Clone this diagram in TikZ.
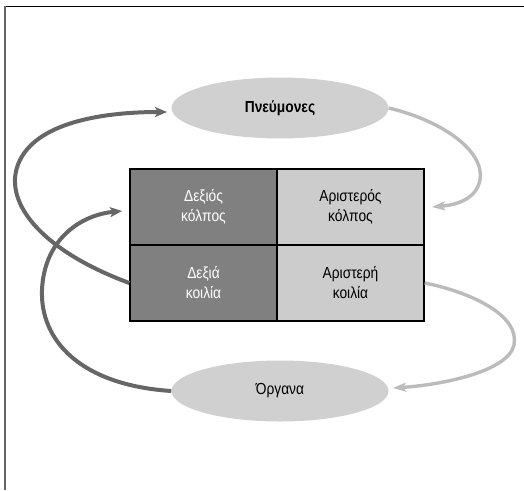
\documentclass[tikz,border=0pt]{standalone}
\usepackage{fontspec}
\setmainfont{Liberation Sans}[FakeStretch=0.86]
\usetikzlibrary{arrows.meta,shapes.geometric}
\definecolor{darkcell}{HTML}{808080}
\definecolor{lightcell}{HTML}{CCCCCC}
\definecolor{ellfill}{HTML}{D0D0D0}
\definecolor{darkarrow}{HTML}{666666}
\definecolor{lightarrow}{HTML}{BBBBBB}
\tikzset{
  cell/.style={draw=black, line width=1.3pt, minimum width=147pt, minimum height=76pt,
    inner sep=0pt, align=center, font=\fontsize{16}{20}\selectfont},
  darkc/.style={cell, fill=darkcell, text=white},
  lightc/.style={cell, fill=lightcell, text=black},
  organ/.style={ellipse, fill=ellfill, minimum width=217pt, minimum height=61pt,
    inner sep=0pt, font=\fontsize{16}{20}\selectfont},
  darkflow/.style={draw=darkarrow, line width=4pt, -{Stealth[length=12pt,width=10pt,inset=3pt]}},
  lightflow/.style={draw=lightarrow, line width=3.4pt, -{Stealth[length=13pt,width=9pt,inset=3pt]}},
}
\begin{document}
\begin{tikzpicture}[x=1pt,y=-1pt]
\useasboundingbox (0,0) rectangle (524,490);
\fill[white] (0,0) rectangle (524,490);
\draw[black, line width=1.4pt] (4,6.5) -- (524,6.5);
\draw[darkarrow, line width=2.2pt] (5,6) -- (5,490);

\node[organ] (pn) at (280,108) {\textbf{Πνεύμονες}};
\node[organ] (og) at (280,391) {Όργανα};

\node[darkc]  (dk) at (203.5,207) {Δεξιός\\κόλπος};
\node[lightc] (ak) at (350.5,207) {Αριστερός\\κόλπος};
\node[darkc]  (dv) at (203.5,283) {Δεξιά\\κοιλία};
\node[lightc] (av) at (350.5,283) {Αριστερή\\κοιλία};

\coordinate (t1) at (167,112);
\coordinate (t2) at (432,207);
\coordinate (t3) at (393,388);
\coordinate (t4) at (122,211);

% right ventricle -> lungs
\draw[darkflow] (dv.west) .. controls (40,250) and (0,200) .. (20,160)
  .. controls (40,120) and (110,112) .. (t1);
% lungs -> left atrium
\draw[lightflow] (pn.east) .. controls (440,120) and (485,150) .. (480,180)
  .. controls (476,200) and (455,205) .. (t2);
% left ventricle -> organs
\draw[lightflow] (av.east) .. controls (470,292) and (520,315) .. (514,345)
  .. controls (508,372) and (440,385) .. (t3);
% organs -> right atrium
\draw[darkflow] (og.west) .. controls (80,385) and (40,340) .. (42,290)
  .. controls (44,240) and (80,215) .. (t4);
\end{tikzpicture}
\end{document}
